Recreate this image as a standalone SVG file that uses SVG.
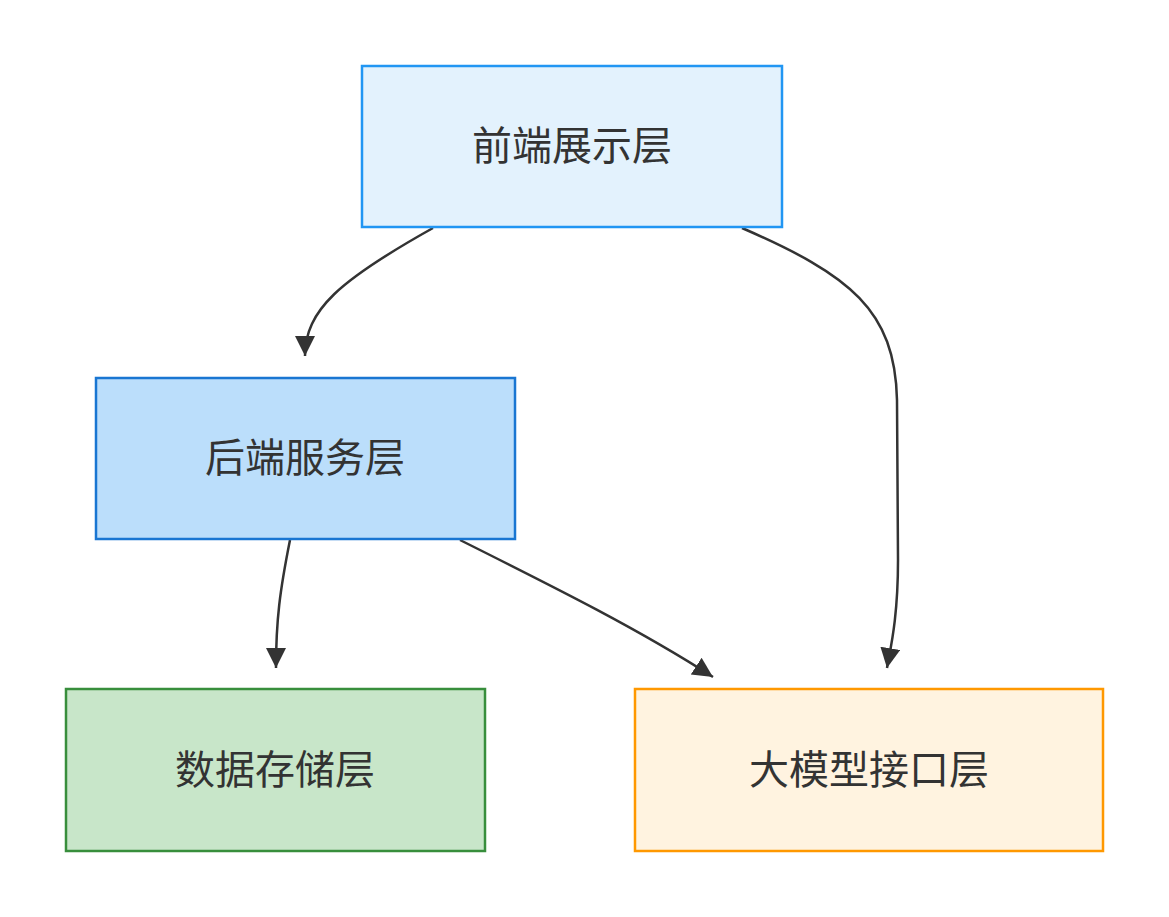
<svg xmlns="http://www.w3.org/2000/svg" width="1169" height="917" viewBox="0 0 1169 917">
<style>
.t{font-family:"Liberation Sans","Noto Sans CJK SC",sans-serif;font-size:40px;fill:#333;text-anchor:middle;dominant-baseline:central}
.e{fill:none;stroke:#333;stroke-width:2.5}
</style>
<defs><marker id="a" markerUnits="userSpaceOnUse" markerWidth="24" markerHeight="24" refX="20" refY="10" orient="auto"><path d="M0,0L20,10L0,20z" fill="#333"/></marker></defs>
<rect width="1169" height="917" fill="#fff"/>
<g id="connectors">
<path class="e" marker-end="url(#a)" d="M433,228C340,280 305,310 305,356"/>
<path class="e" marker-end="url(#a)" d="M742,228C850,275 895,310 897,400L898,560C898,620 890,650 887,668"/>
<path class="e" marker-end="url(#a)" d="M290,540C280,590 276,620 276,668"/>
<path class="e" marker-end="url(#a)" d="M460,540C560,590 640,630 713,677"/>
</g>
<g id="n1"><rect x="362" y="66" width="420" height="161" fill="#E3F2FD" stroke="#2196F3" stroke-width="2.5"/><text class="t" x="572" y="146">前端展示层</text></g>
<g id="n2"><rect x="96" y="378" width="419" height="161" fill="#BBDEFB" stroke="#1976D2" stroke-width="2.5"/><text class="t" x="305" y="458">后端服务层</text></g>
<g id="n3"><rect x="66" y="689" width="419" height="162" fill="#C8E6C9" stroke="#388E3C" stroke-width="2.5"/><text class="t" x="275" y="770">数据存储层</text></g>
<g id="n4"><rect x="635" y="689" width="468" height="162" fill="#FFF3E0" stroke="#FF9800" stroke-width="2.5"/><text class="t" x="869" y="770">大模型接口层</text></g>
</svg>
